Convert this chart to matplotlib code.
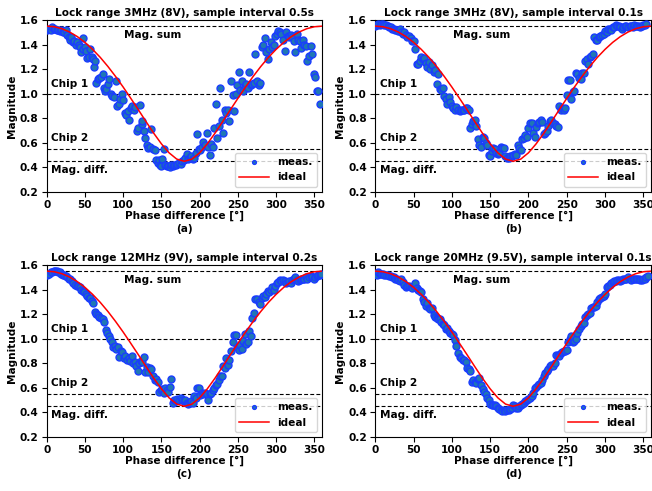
import numpy as np
import matplotlib
matplotlib.use("Agg")
import matplotlib.pyplot as plt

# ---------------- data ----------------
titles = ["Lock range 3MHz (8V), sample interval 0.5s",
          "Lock range 3MHz (8V), sample interval 0.1s",
          "Lock range 12MHz (9V), sample interval 0.2s",
          "Lock range 20MHz (9.5V), sample interval 0.1s"]
panel_tags = ["(a)", "(b)", "(c)", "(d)"]

ref_levels = [1.55, 1.0, 0.55, 0.45]
ref_names = ["Mag. sum", "Chip 1", "Chip 2", "Mag. diff."]

ideal_phase = [0, 10, 20, 30, 40, 50, 60, 70, 80, 90, 100, 110, 120, 130, 140, 150, 160, 170, 180,
               190, 200, 210, 220, 230, 240, 250, 260, 270, 280, 290, 300, 310, 320, 330, 340, 350, 360]
ideal_mag = [1.550, 1.545, 1.529, 1.502, 1.465, 1.418, 1.361, 1.296, 1.222, 1.141, 1.054, 0.962,
             0.868, 0.772, 0.678, 0.592, 0.519, 0.468, 0.450,
             0.468, 0.519, 0.592, 0.678, 0.772, 0.868, 0.962, 1.054, 1.141, 1.222, 1.296, 1.361,
             1.418, 1.465, 1.502, 1.529, 1.545, 1.550]

a_phase = [1, 3, 5, 7, 9, 11, 13, 15, 17, 19, 21, 23, 25, 27, 29, 30, 32, 34, 36, 38, 40, 42, 44, 45, 47, 48,
           50, 52, 53, 55, 57, 59, 61, 62, 63, 65, 67, 69, 71, 73, 75, 76, 78, 80, 82, 84, 86, 88, 90, 92, 94,
           96, 98, 100, 102, 104, 106, 108, 110, 112, 114, 116, 118, 120, 122, 124, 125, 127, 129, 131, 133,
           135, 137, 139, 141, 143, 145, 147, 148, 150, 151, 153, 155, 157, 159, 161, 163, 165, 167, 169, 171,
           173, 175, 177, 179, 181, 183, 185, 187, 189, 191, 193, 195, 197, 199, 201, 203, 205, 207, 209, 211,
           213, 215, 217, 219, 221, 223, 225, 227, 229, 231, 233, 235, 237, 239, 241, 243, 245, 247, 249, 251,
           253, 255, 257, 259, 261, 263, 265, 267, 269, 271, 273, 275, 277, 279, 281, 283, 285, 287, 289, 291,
           293, 295, 297, 299, 301, 303, 305, 307, 309, 311, 313, 315, 317, 319, 321, 323, 325, 327, 329, 331,
           333, 335, 337, 339, 341, 343, 345, 347, 349, 351, 353, 355, 357]
a_mag = [1.52, 1.53, 1.52, 1.54, 1.53, 1.53, 1.52, 1.52, 1.51, 1.52, 1.50, 1.50, 1.52, 1.48, 1.46, 1.44, 1.46,
         1.42, 1.43, 1.40, 1.42, 1.40, 1.38, 1.34, 1.36, 1.45, 1.38, 1.35, 1.29, 1.30, 1.36, 1.30, 1.28, 1.22,
         1.27, 1.09, 1.12, 1.13, 1.14, 1.16, 1.05, 1.02, 1.04, 1.08, 1.12, 1.00, 0.98, 0.97, 1.10, 0.90, 0.92,
         0.96, 1.00, 0.95, 0.84, 0.83, 0.86, 0.79, 0.88, 0.90, 0.87, 0.89, 0.70, 0.72, 0.91, 0.75, 0.78, 0.70,
         0.64, 0.58, 0.56, 0.57, 0.71, 0.55, 0.54, 0.46, 0.44, 0.46, 0.42, 0.41, 0.47, 0.55, 0.42, 0.41, 0.41,
         0.40, 0.42, 0.41, 0.42, 0.42, 0.43, 0.44, 0.43, 0.45, 0.46, 0.48, 0.51, 0.47, 0.48, 0.49, 0.47, 0.48,
         0.52, 0.67, 0.55, 0.54, 0.57, 0.61, 0.58, 0.68, 0.57, 0.50, 0.59, 0.57, 0.72, 0.92, 0.64, 0.74, 1.05,
         0.79, 0.68, 0.87, 0.84, 0.87, 0.78, 1.10, 0.99, 0.86, 1.00, 1.07, 1.18, 1.03, 1.10, 1.02, 1.06, 1.08,
         1.05, 1.18, 1.07, 1.08, 1.09, 1.32, 1.10, 1.07, 1.09, 1.38, 1.40, 1.45, 1.34, 1.28, 1.36, 1.42, 1.38,
         1.40, 1.47, 1.49, 1.51, 1.50, 1.49, 1.44, 1.35, 1.50, 1.47, 1.46, 1.48, 1.46, 1.43, 1.34, 1.49, 1.44,
         1.43, 1.37, 1.44, 1.40, 1.39, 1.27, 1.31, 1.39, 1.32, 1.16, 1.14, 1.02, 1.02, 0.92]

b_phase = list(range(0, 356, 2))
b_mag = [1.55, 1.56, 1.57, 1.56, 1.57, 1.57, 1.56, 1.56, 1.55, 1.54, 1.54, 1.53, 1.53, 1.52, 1.52, 1.51, 1.53,
         1.50, 1.49, 1.50, 1.48, 1.46, 1.47, 1.45, 1.43, 1.43, 1.36, 1.24, 1.24, 1.27, 1.30, 1.28, 1.29, 1.25,
         1.22, 1.26, 1.20, 1.23, 1.18, 1.19, 1.08, 1.16, 1.04, 1.03, 1.05, 0.98, 0.96, 0.92, 0.97, 0.93, 0.90,
         0.88, 0.87, 0.89, 0.87, 0.86, 0.87, 0.87, 0.87, 0.88, 0.88, 0.87, 0.72, 0.75, 0.78, 0.79, 0.74, 0.63,
         0.58, 0.57, 0.65, 0.64, 0.60, 0.58, 0.50, 0.49, 0.53, 0.56, 0.55, 0.52, 0.51, 0.52, 0.57, 0.56, 0.56,
         0.49, 0.48, 0.48, 0.49, 0.49, 0.50, 0.51, 0.50, 0.58, 0.56, 0.54, 0.63, 0.64, 0.66, 0.65, 0.72, 0.76,
         0.76, 0.68, 0.65, 0.73, 0.76, 0.77, 0.79, 0.77, 0.67, 0.68, 0.70, 0.74, 0.78, 0.79, 0.76, 0.75, 0.74,
         0.73, 0.90, 0.87, 0.88, 0.87, 0.88, 0.99, 1.11, 1.11, 0.96, 1.01, 1.02, 1.17, 1.16, 1.13, 1.12, 1.17,
         1.17, 1.27, 1.28, 1.24, 1.30, 1.31, 1.32, 1.46, 1.44, 1.44, 1.46, 1.47, 1.48, 1.49, 1.51, 1.50, 1.53,
         1.53, 1.52, 1.54, 1.54, 1.56, 1.55, 1.55, 1.54, 1.53, 1.54, 1.55, 1.55, 1.54, 1.55, 1.55, 1.54, 1.56,
         1.55, 1.55, 1.55, 1.54, 1.55, 1.56, 1.56, 1.57]

c_phase = list(range(1, 360, 2))
c_mag = [1.52, 1.53, 1.54, 1.54, 1.55, 1.55, 1.55, 1.54, 1.54, 1.53, 1.52, 1.52, 1.51, 1.50, 1.49, 1.49, 1.47,
         1.45, 1.44, 1.43, 1.43, 1.42, 1.40, 1.39, 1.38, 1.36, 1.35, 1.33, 1.33, 1.31, 1.29, 1.22, 1.20, 1.19,
         1.18, 1.17, 1.16, 1.14, 1.07, 1.05, 1.02, 1.00, 0.97, 0.93, 0.94, 0.92, 0.93, 0.85, 0.90, 0.89, 0.84,
         0.86, 0.83, 0.84, 0.82, 0.86, 0.80, 0.81, 0.78, 0.74, 0.80, 0.82, 0.81, 0.85, 0.73, 0.77, 0.73, 0.76,
         0.75, 0.70, 0.66, 0.67, 0.65, 0.57, 0.58, 0.59, 0.56, 0.60, 0.58, 0.57, 0.61, 0.67, 0.48, 0.50, 0.49,
         0.51, 0.50, 0.52, 0.50, 0.49, 0.50, 0.48, 0.47, 0.48, 0.49, 0.48, 0.53, 0.52, 0.60, 0.60, 0.54, 0.56,
         0.55, 0.56, 0.55, 0.50, 0.55, 0.56, 0.58, 0.60, 0.62, 0.63, 0.66, 0.70, 0.70, 0.78, 0.76, 0.84, 0.79,
         0.83, 0.90, 0.97, 1.03, 1.03, 0.93, 0.91, 0.95, 0.92, 0.98, 1.04, 0.96, 0.97, 1.06, 1.02, 1.17, 1.21,
         1.32, 1.32, 1.30, 1.28, 1.33, 1.35, 1.34, 1.36, 1.39, 1.38, 1.40, 1.42, 1.40, 1.43, 1.45, 1.46, 1.48,
         1.47, 1.48, 1.47, 1.45, 1.46, 1.47, 1.45, 1.48, 1.49, 1.50, 1.48, 1.47, 1.48, 1.49, 1.49, 1.49, 1.50,
         1.49, 1.50, 1.51, 1.50, 1.49, 1.50, 1.51, 1.52, 1.52, 1.53]

d_phase = list(range(0, 358, 2))
d_mag = [1.53, 1.52, 1.54, 1.53, 1.53, 1.53, 1.52, 1.52, 1.52, 1.51, 1.51, 1.50, 1.50, 1.49, 1.49, 1.48, 1.47,
         1.49, 1.46, 1.44, 1.42, 1.43, 1.43, 1.42, 1.41, 1.43, 1.45, 1.41, 1.40, 1.39, 1.38, 1.32, 1.30, 1.27,
         1.29, 1.25, 1.24, 1.25, 1.19, 1.18, 1.17, 1.16, 1.16, 1.14, 1.12, 1.11, 1.08, 1.09, 1.06, 1.05, 1.04,
         1.03, 0.99, 0.94, 0.88, 0.85, 0.84, 0.83, 0.83, 0.81, 0.76, 0.75, 0.74, 0.65, 0.66, 0.65, 0.64, 0.67,
         0.68, 0.62, 0.59, 0.57, 0.55, 0.52, 0.50, 0.47, 0.46, 0.46, 0.46, 0.45, 0.44, 0.43, 0.42, 0.41, 0.42,
         0.41, 0.42, 0.42, 0.43, 0.44, 0.46, 0.45, 0.44, 0.44, 0.45, 0.46, 0.47, 0.48, 0.49, 0.50, 0.51, 0.52,
         0.53, 0.56, 0.60, 0.61, 0.62, 0.63, 0.64, 0.66, 0.70, 0.72, 0.74, 0.75, 0.78, 0.79, 0.78, 0.80, 0.87,
         0.87, 0.86, 0.88, 0.89, 0.90, 0.90, 0.91, 0.97, 1.00, 1.02, 0.97, 0.98, 1.00, 1.05, 1.08, 1.10, 1.12,
         1.13, 1.18, 1.19, 1.20, 1.21, 1.25, 1.26, 1.26, 1.27, 1.30, 1.32, 1.33, 1.34, 1.35, 1.36, 1.42, 1.43,
         1.44, 1.45, 1.46, 1.47, 1.47, 1.48, 1.48, 1.47, 1.48, 1.49, 1.49, 1.49, 1.50, 1.49, 1.48, 1.49, 1.49,
         1.49, 1.49, 1.49, 1.48, 1.48, 1.49, 1.49, 1.50, 1.51]

phases = [a_phase, b_phase, c_phase, d_phase]
mags = [a_mag, b_mag, c_mag, d_mag]

# ---------------- figure ----------------
FS = 7.6
plt.rcParams.update({
    "font.family": ["DejaVu Sans"],
    "font.weight": "bold",
    "font.size": FS,
    "axes.labelweight": "bold",
    "axes.titleweight": "bold",
})

fig = plt.figure(figsize=(6.52, 4.91), dpi=100)
W, H = 652, 491
rects = [(46.7, 20, 322, 192), (375.3, 20, 651, 192),
         (46.7, 265, 322, 437), (375.3, 265, 651, 437)]

for i in range(4):
    x0, y0, x1, y1 = rects[i]
    ax = fig.add_axes([x0 / W, 1 - y1 / H, (x1 - x0) / W, (y1 - y0) / H])
    for lv in ref_levels:
        ax.axhline(lv, color="black", ls="--", lw=0.8, dashes=(3.5, 2))
    ax.plot(phases[i], mags[i], "o", ms=5.0, mfc="#1f77b4", mec="#1a3cff", mew=1.0,
            label="meas.", zorder=3)
    ax.plot(ideal_phase, ideal_mag, color="red", lw=1.1, label="ideal", zorder=4)

    ax.text(139, 1.48, ref_names[0], ha="center", va="center", fontsize=FS, fontweight="bold")
    ax.text(6, 1.08, ref_names[1], ha="left", va="center", fontsize=FS, fontweight="bold")
    ax.text(6, 0.64, ref_names[2], ha="left", va="center", fontsize=FS, fontweight="bold")
    ax.text(6, 0.38, ref_names[3], ha="left", va="center", fontsize=FS, fontweight="bold")

    ax.set_xlim(0, 360)
    ax.set_ylim(0.2, 1.6)
    ax.set_xticks([0, 50, 100, 150, 200, 250, 300, 350])
    ax.set_yticks([0.2, 0.4, 0.6, 0.8, 1.0, 1.2, 1.4, 1.6])
    ax.tick_params(labelsize=FS, pad=2.5)
    for lab in ax.get_xticklabels() + ax.get_yticklabels():
        lab.set_fontweight("bold")
    ax.set_title(titles[i], fontsize=FS, fontweight="bold", pad=3)
    ax.set_xlabel("Phase difference [°]\n" + panel_tags[i], fontsize=FS, fontweight="bold",
                  labelpad=0, linespacing=1.45)
    ax.set_ylabel("Magnitude", fontsize=FS, fontweight="bold", labelpad=2)
    ax.legend(loc="lower right", markerscale=0.55, handlelength=2.8,
              prop={"weight": "bold", "size": FS})

fig.savefig("out.png", dpi=100)
